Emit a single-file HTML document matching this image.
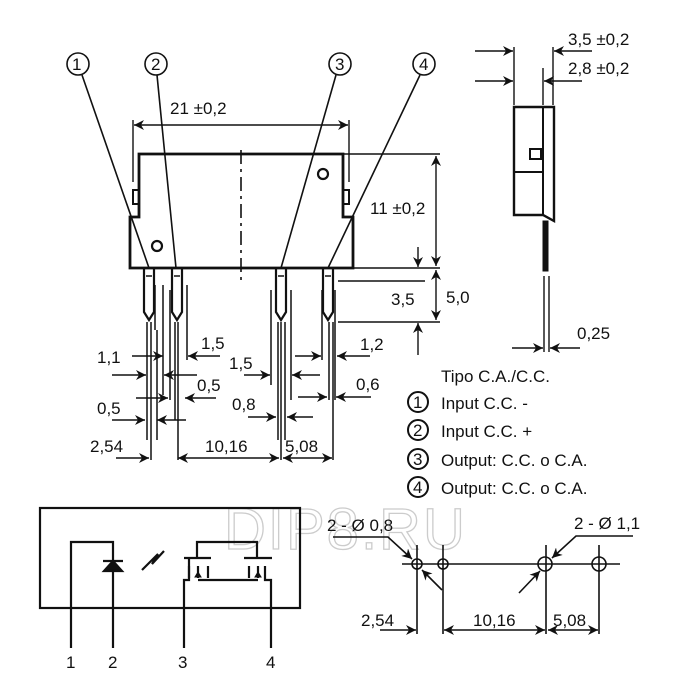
<!DOCTYPE html>
<html><head><meta charset="utf-8"><style>
html,body{margin:0;padding:0;background:#fff}
svg{display:block}
text{font-family:"Liberation Sans",sans-serif;fill:#111}
</style></head><body>
<svg width="700" height="700" viewBox="0 0 700 700" xmlns="http://www.w3.org/2000/svg">
<defs>
<marker id="a" viewBox="0 0 10 10" refX="10" refY="5" markerWidth="10" markerHeight="10" orient="auto-start-reverse" markerUnits="userSpaceOnUse"><path d="M0,0 L10,5 L0,10 L3,5 z" fill="#111"/></marker>
</defs>
<g stroke="#111" fill="none" stroke-width="1.8">
<text x="224" y="549" font-size="58" style="fill:none;stroke:#ccc;stroke-width:1.3" letter-spacing="2">DIP8.RU</text>

<path d="M139,154 H343 V217 H353 V268 H130 V217 H139 Z" stroke-width="2.8"/>
<rect x="133" y="190" width="6" height="14" stroke-width="2"/>
<rect x="343" y="190" width="6" height="14" stroke-width="2"/>
<circle cx="157" cy="246" r="5" stroke-width="2.2"/>
<circle cx="323" cy="174" r="5" stroke-width="2.2"/>
<line x1="241" y1="150" x2="241" y2="280" stroke-dasharray="14,5,3,5" stroke-width="1.6"/>

<line x1="133" y1="120" x2="133" y2="182" stroke-width="1.4"/>
<line x1="349" y1="120" x2="349" y2="182" stroke-width="1.4"/>
<line x1="134" y1="125" x2="348" y2="125" marker-start="url(#a)" marker-end="url(#a)" stroke-width="1.5"/>

<g stroke-width="2.2">
<path d="M144,268 V312 L149,320 L154,312 V268"/>
<path d="M172,268 V312 L177,320 L182,312 V268"/>
<path d="M276,268 V312 L281,320 L286,312 V268"/>
<path d="M323,268 V312 L328,320 L333,312 V268"/>
</g>
<g stroke-width="1.5">
<path d="M146,276 h6 M174,276 h6 M278,276 h6 M325,276 h6"/>
<path d="M147,322 V440 M151,322 V460 M155,285 V330 M157,330 V440 M163,285 V395"/>
<path d="M170,290 V400 M175,322 V420 M178,322 V460 M187,285 V360"/>
<path d="M271,290 V385 M278,322 V440 M281,322 V460 M285,322 V440 M291,290 V400"/>
<path d="M322,290 V360 M329,322 V400 M333,322 V460 M335,290 V400"/>
</g>
<g stroke-width="1.6">
<circle cx="78" cy="64" r="11"/><circle cx="156" cy="64" r="11"/><circle cx="340" cy="64" r="11"/><circle cx="424" cy="64" r="11"/>
<line x1="82" y1="75" x2="149" y2="268"/>
<line x1="157" y1="75" x2="176" y2="268"/>
<line x1="336" y1="75" x2="281" y2="268"/>
<line x1="420" y1="75" x2="328" y2="268"/>
</g>
<g stroke-width="1.4">
<line x1="343" y1="154" x2="440" y2="154"/>
<line x1="353" y1="268" x2="440" y2="268"/>
<line x1="338" y1="281" x2="425" y2="281"/>
<line x1="338" y1="322" x2="440" y2="322"/>
<line x1="436" y1="156" x2="436" y2="266" marker-start="url(#a)" marker-end="url(#a)"/>
<line x1="436" y1="270" x2="436" y2="320" marker-start="url(#a)" marker-end="url(#a)"/>
<line x1="418" y1="247" x2="418" y2="267" marker-end="url(#a)"/>
<line x1="418" y1="355" x2="418" y2="323" marker-end="url(#a)"/>
</g>
<g stroke-width="1.4">
<line x1="132" y1="356" x2="163" y2="356" marker-end="url(#a)"/>
<line x1="112" y1="375" x2="146" y2="375" marker-end="url(#a)"/>
<line x1="197" y1="375" x2="164" y2="375" marker-end="url(#a)"/>
<line x1="220" y1="356" x2="188" y2="356" marker-end="url(#a)"/>
<line x1="136" y1="398" x2="168" y2="398" marker-end="url(#a)"/>
<line x1="216" y1="398" x2="185" y2="398" marker-end="url(#a)"/>
<line x1="112" y1="420" x2="145" y2="420" marker-end="url(#a)"/>
<line x1="186" y1="420" x2="157" y2="420" marker-end="url(#a)"/>
<line x1="244" y1="375" x2="270" y2="375" marker-end="url(#a)"/>
<line x1="320" y1="375" x2="292" y2="375" marker-end="url(#a)"/>
<line x1="248" y1="417" x2="276" y2="417" marker-end="url(#a)"/>
<line x1="313" y1="417" x2="287" y2="417" marker-end="url(#a)"/>
<line x1="295" y1="356" x2="321" y2="356" marker-end="url(#a)"/>
<line x1="370" y1="356" x2="337" y2="356" marker-end="url(#a)"/>
<line x1="298" y1="397" x2="327" y2="397" marker-end="url(#a)"/>
<line x1="371" y1="397" x2="336" y2="397" marker-end="url(#a)"/>
<line x1="116" y1="458" x2="149" y2="458" marker-end="url(#a)"/>
<line x1="178" y1="458" x2="279" y2="458" marker-start="url(#a)" marker-end="url(#a)"/>
<line x1="283" y1="458" x2="332" y2="458" marker-start="url(#a)" marker-end="url(#a)"/>
</g>

<path d="M514,107 H554 V221 L543,215 L514,215 Z" stroke-width="2.4"/>
<line x1="543" y1="107" x2="543" y2="216" stroke-width="2"/>
<line x1="514" y1="172" x2="543" y2="172" stroke-width="2"/>
<rect x="530" y="149" width="11" height="10" stroke-width="2"/>
<rect x="543" y="221" width="5" height="50" fill="#111" stroke-width="1"/>
<g stroke-width="1.4">
<line x1="544" y1="276" x2="544" y2="352"/><line x1="549" y1="276" x2="549" y2="352"/>
<line x1="514" y1="47" x2="514" y2="105"/><line x1="553" y1="47" x2="553" y2="105"/><line x1="543" y1="68" x2="543" y2="105"/>
<line x1="475" y1="51" x2="513" y2="51" marker-end="url(#a)"/>
<line x1="592" y1="51" x2="554" y2="51" marker-end="url(#a)"/>
<line x1="475" y1="81" x2="513" y2="81" marker-end="url(#a)"/>
<line x1="582" y1="81" x2="544" y2="81" marker-end="url(#a)"/>
<line x1="512" y1="348" x2="543" y2="348" marker-end="url(#a)"/>
<line x1="580" y1="348" x2="550" y2="348" marker-end="url(#a)"/>
</g>

<g stroke-width="2">
<circle cx="418" cy="402" r="10"/><circle cx="418" cy="430" r="10"/><circle cx="418" cy="459" r="10"/><circle cx="418" cy="487" r="10"/>
</g>

<rect x="40" y="508" width="260" height="100" stroke-width="2.2"/>
<g stroke-width="2.2">
<path d="M71,648 V542 H113 V648"/>
<path d="M103,561 H123"/>
<path d="M104,571 L113,561 L122,571 Z" fill="#111"/>
<path d="M142,570 L158,554 L152,564 L164,551"/>
<path d="M184,648 V580 H189 V566 M189,558 V566"/>
<path d="M184,558 H211 M197,558 V542 H257 V558 M244,558 H272"/>
<path d="M189,566 V578 M198,566 V578 M208,566 V578 M198,580 H258"/>
<path d="M249,566 V578 M258,566 V578 M265,566 V578 M265,578 V580 H271 V648"/>
</g>
<path d="M198,572 l-3,5 h6 z M258,572 l-3,5 h6 z" fill="#111" stroke-width="1"/>

<g stroke-width="1.6">
<line x1="402" y1="564" x2="620" y2="564"/>
<circle cx="417" cy="564" r="5"/><circle cx="443" cy="564" r="5"/><circle cx="545" cy="564" r="7"/><circle cx="599" cy="564" r="7"/>
<line x1="417" y1="545" x2="417" y2="634"/><line x1="443" y1="545" x2="443" y2="634"/>
<line x1="546" y1="545" x2="546" y2="634"/><line x1="599" y1="545" x2="599" y2="634"/>
<line x1="380" y1="630" x2="416" y2="630" marker-end="url(#a)"/>
<line x1="444" y1="630" x2="545" y2="630" marker-start="url(#a)" marker-end="url(#a)"/>
<line x1="548" y1="630" x2="598" y2="630" marker-start="url(#a)" marker-end="url(#a)"/>
<path d="M333,537 H388 L412,559" marker-end="url(#a)"/>
<line x1="442" y1="590" x2="422" y2="570" marker-end="url(#a)"/>
<path d="M633,536 H576 L552,558" marker-end="url(#a)"/>
<line x1="519" y1="593" x2="540" y2="571" marker-end="url(#a)"/>
</g>
</g>

<g font-size="17">
<text x="72" y="70">1</text><text x="151" y="70">2</text><text x="335" y="70">3</text><text x="419" y="70">4</text>
<text x="170" y="114">21 ±0,2</text>
<text x="370" y="214">11 ±0,2</text>
<text x="446" y="303">5,0</text>
<text x="391" y="305">3,5</text>
<text x="97" y="363">1,1</text>
<text x="201" y="349">1,5</text>
<text x="229" y="369">1,5</text>
<text x="197" y="391">0,5</text>
<text x="97" y="414">0,5</text>
<text x="232" y="410">0,8</text>
<text x="360" y="350">1,2</text>
<text x="356" y="390">0,6</text>
<text x="90" y="452">2,54</text>
<text x="205" y="452">10,16</text>
<text x="285" y="452">5,08</text>
<text x="568" y="45">3,5 ±0,2</text>
<text x="568" y="74">2,8 ±0,2</text>
<text x="577" y="339">0,25</text>
<text x="441" y="382">Tipo C.A./C.C.</text>
<text x="413" y="408">1</text><text x="413" y="436">2</text><text x="413" y="465">3</text><text x="413" y="493">4</text>
<text x="441" y="409">Input C.C. -</text>
<text x="441" y="437">Input C.C. +</text>
<text x="441" y="466">Output: C.C. o C.A.</text>
<text x="441" y="494">Output: C.C. o C.A.</text>
<text x="66" y="668">1</text><text x="108" y="668">2</text><text x="178" y="668">3</text><text x="266" y="668">4</text>
<text x="327" y="531">2 - Ø 0,8</text>
<text x="574" y="529">2 - Ø 1,1</text>
<text x="361" y="626">2,54</text>
<text x="473" y="626">10,16</text>
<text x="553" y="626">5,08</text>
</g>
</svg>
</body></html>
